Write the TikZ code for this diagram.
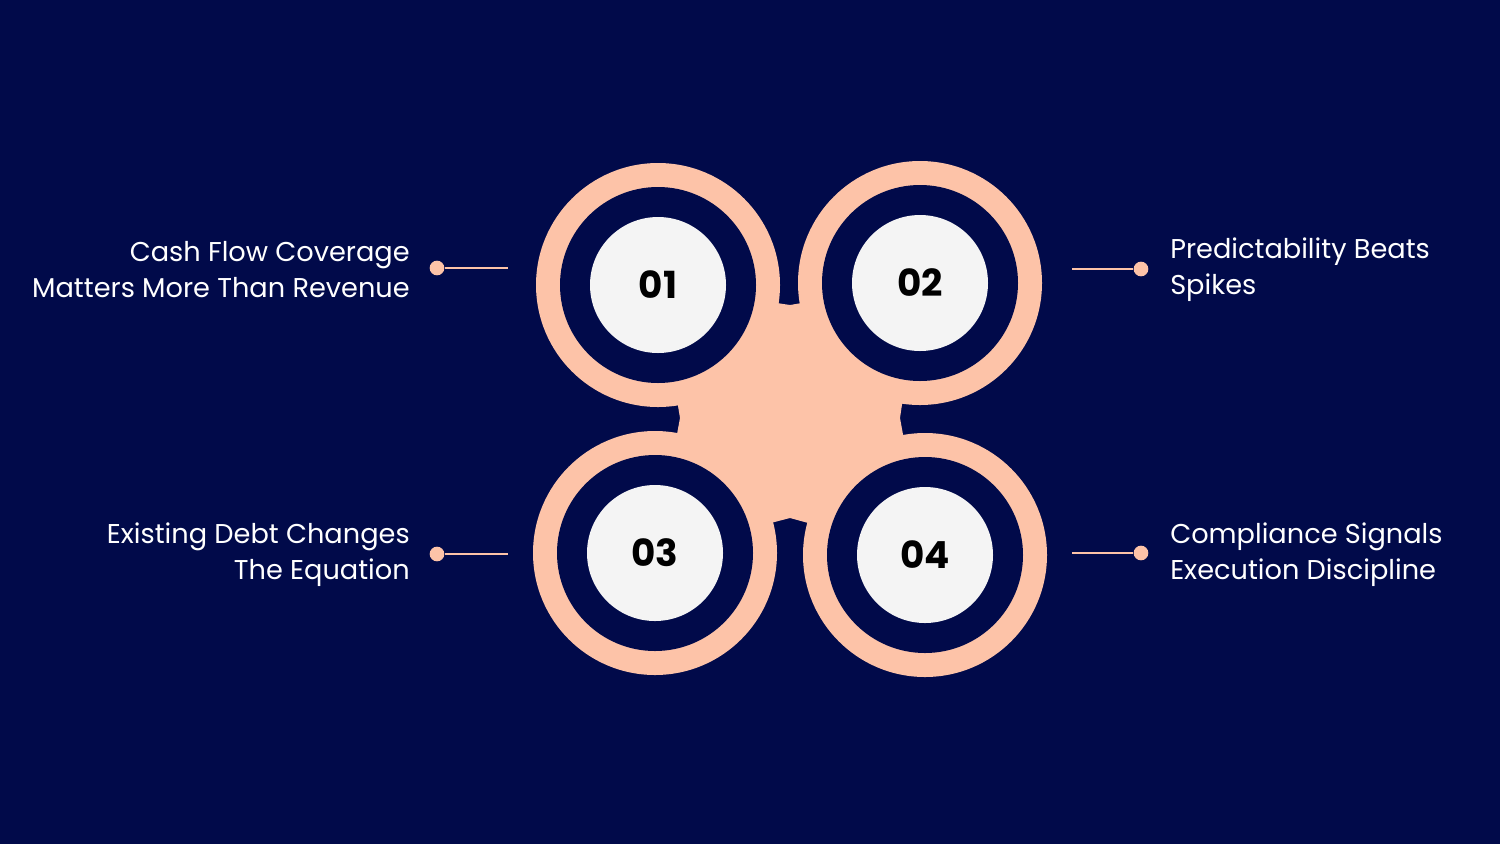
\documentclass[tikz,border=0pt]{standalone}
\usepackage{fontspec}
\setmainfont{Poppins}
\definecolor{bg}{HTML}{010A4A}
\definecolor{peach}{HTML}{FDC3A8}
\definecolor{wht}{HTML}{F4F4F4}
\begin{document}
\begin{tikzpicture}[x=0.75pt,y=-0.75pt,
  lbl/.style={text=white,font=\fontsize{20.4}{27}\selectfont,align=left,inner sep=0pt},
  lblr/.style={lbl,align=right},
  num/.style={circle,fill=wht,minimum size=136*0.75pt,inner sep=0pt,font=\fontsize{28}{30}\selectfont\bfseries,text=black},
  conn/.style={draw=peach,line width=2pt},
  dot/.style={circle,fill=peach,minimum size=11pt,inner sep=0pt}]
\fill[bg] (0,0) rectangle (1500,844);
\useasboundingbox (0,0) rectangle (1500,844);
% peach outer
\foreach \x/\y in {658/285,920/283,655/553,925/555}{\fill[peach] (\x,\y) circle (122);}
\fill[peach] (658,285) -- (790,305) -- (920,283) -- (900,418) -- (925,555) -- (790,518) -- (655,553) -- (680,418) -- cycle;
\foreach \x/\y in {658/285,920/283,655/553,925/555}{\fill[bg] (\x,\y) circle (98);}
\node[num] (n1) at (658,285) {01};
\node[num] (n2) at (920,283) {02};
\node[num] (n3) at (655,553) {03};
\node[num] (n4) at (925,555) {04};
% connectors
\node[dot] (d1) at (437,268) {}; \coordinate (e1) at (508,268);
\node[dot] (d3) at (437,554) {}; \coordinate (e3) at (508,554);
\node[dot] (d2) at (1141,269) {}; \coordinate (e2) at (1072,269);
\node[dot] (d4) at (1141,553) {}; \coordinate (e4) at (1072,553);
\draw[conn] (d1) -- (e1); \draw[conn] (d3) -- (e3);
\draw[conn] (d2) -- (e2); \draw[conn] (d4) -- (e4);
\node[lblr,anchor=east] (t1) at (410,270) {Cash Flow Coverage\\Matters More Than Revenue};
\node[lblr,anchor=east] (t3) at (410,555) {Existing Debt Changes\\The Equation};
\node[lbl,anchor=west] (t2) at (1170,270) {Predictability Beats\\Spikes};
\node[lbl,anchor=west] (t4) at (1170,555) {Compliance Signals\\Execution Discipline};
\end{tikzpicture}
\end{document}
